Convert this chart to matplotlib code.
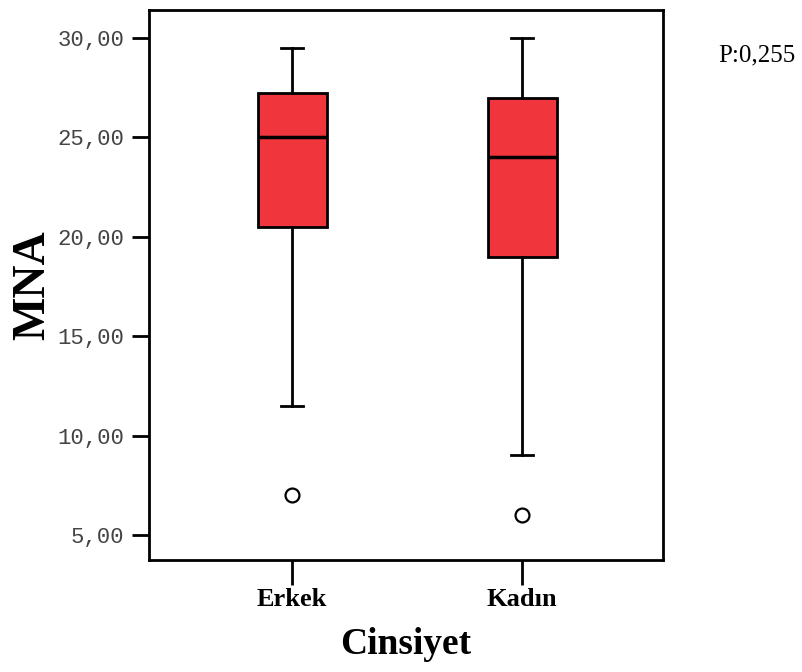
import matplotlib
matplotlib.use('Agg')
import matplotlib.pyplot as plt

groups = ['Erkek', 'Kadın']
whislo = [11.5, 9.0]
q1 = [20.5, 19.0]
med = [25.0, 24.0]
q3 = [27.25, 27.0]
whishi = [29.5, 30.0]
fliers = [[7.0], [6.0]]
yticks = [5, 10, 15, 20, 25, 30]
p_text = 'P:0,255'

stats = []
for i, g in enumerate(groups):
    stats.append(dict(label=g, whislo=whislo[i], q1=q1[i], med=med[i],
                      q3=q3[i], whishi=whishi[i], fliers=fliers[i]))

fig = plt.figure(figsize=(8.02, 6.72), dpi=100)
ax = fig.add_axes([149/802, 1 - 560/672, 514/802, 550/672])

ax.bxp(stats, positions=[1, 2], widths=0.3, patch_artist=True,
       boxprops=dict(facecolor='#F0353C', edgecolor='black', linewidth=2),
       medianprops=dict(color='black', linewidth=2.5),
       whiskerprops=dict(color='black', linewidth=2),
       capprops=dict(color='black', linewidth=2),
       capwidths=0.095,
       flierprops=dict(marker='o', markerfacecolor='white', markeredgecolor='black',
                       markersize=10, markeredgewidth=1.6))

ax.set_xlim(0.378, 2.613)
ax.set_ylim(3.74, 31.41)
ax.set_yticks(yticks)
ax.set_yticklabels(['{:.2f}'.format(v).replace('.', ',') for v in yticks],
                   family='Liberation Mono', fontsize=16, color='#444444')
ax.set_xticks([1, 2])
ax.set_xticklabels(groups, family='Liberation Serif', fontweight='bold', fontsize=19)
ax.tick_params(axis='y', length=12, width=2, pad=6)
ax.tick_params(axis='x', length=18, width=2, pad=2)
for s in ax.spines.values():
    s.set_linewidth(2)

ax.set_xlabel('Cinsiyet', family='Liberation Serif', fontweight='bold', fontsize=27, labelpad=12)
ax.set_ylabel('MNA', family='Liberation Serif', fontweight='bold', fontsize=33, labelpad=2)

fig.text(718/802, 1 - 55/672, p_text, family='Liberation Serif', fontsize=18, va='center')

fig.savefig('out.png', dpi=100)
